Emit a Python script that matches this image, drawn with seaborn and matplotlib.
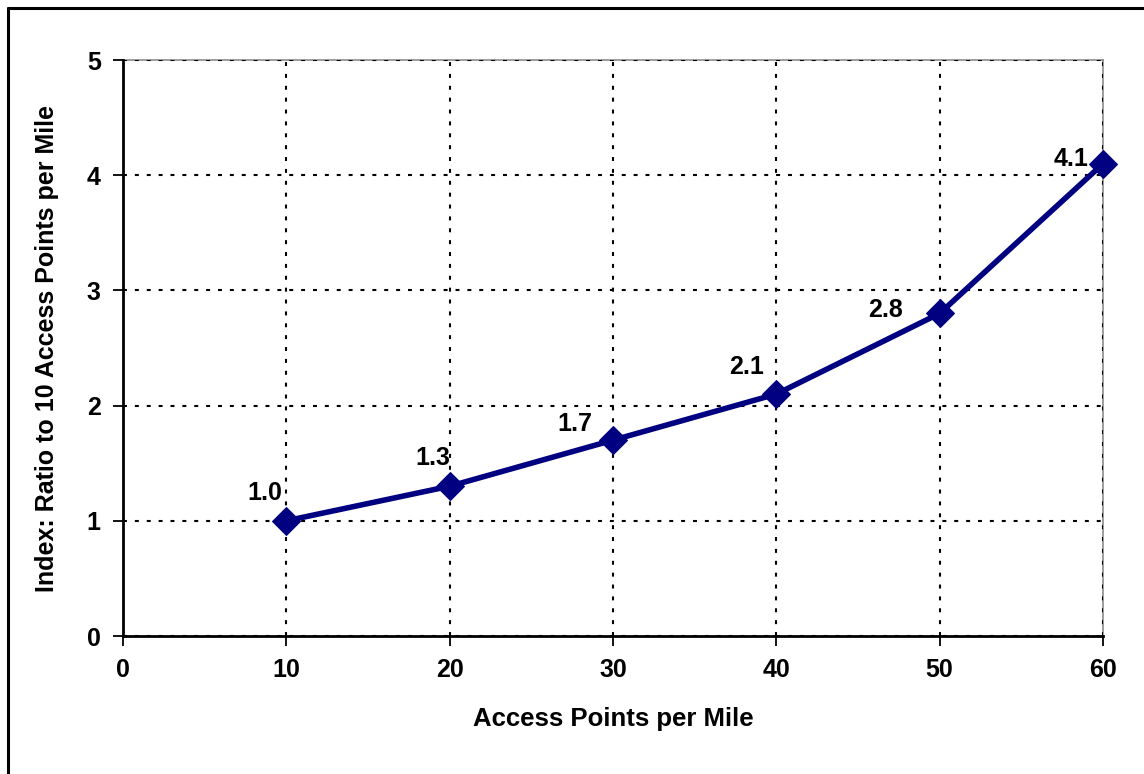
import matplotlib
matplotlib.use("Agg")
import matplotlib.pyplot as plt
import seaborn as sns
import pandas as pd
from matplotlib.lines import Line2D

access_points = [10, 20, 30, 40, 50, 60]
index_ratio = [1.0, 1.3, 1.7, 2.1, 2.8, 4.1]
x_ticks = [0, 10, 20, 30, 40, 50, 60]
y_ticks = [0, 1, 2, 3, 4, 5]
x_label = "Access Points per Mile"
y_label = "Index: Ratio to 10 Access Points per Mile"

sns.set_style("white")
plt.rcParams["font.family"] = ["Liberation Sans", "DejaVu Sans"]
plt.rcParams["font.weight"] = "bold"
plt.rcParams["text.color"] = "black"
plt.rcParams["axes.labelcolor"] = "black"
plt.rcParams["xtick.color"] = "black"
plt.rcParams["ytick.color"] = "black"

df = pd.DataFrame({"x": access_points, "y": index_ratio})

fig = plt.figure(figsize=(11.44, 7.74), dpi=100)
ax = fig.add_axes([123 / 1144, 1 - 636 / 774, (1103 - 123) / 1144, (636 - 60) / 774])

sns.lineplot(data=df, x="x", y="y", ax=ax, color="#000080", linewidth=4.0,
             marker="D", markersize=14, markeredgecolor="#000080",
             markerfacecolor="#000080", zorder=5, clip_on=False)

ax.set_xlim(0, 60)
ax.set_ylim(0, 5)
ax.set_xticks(x_ticks)
ax.set_yticks(y_ticks)
ax.set_xticklabels([str(v) for v in x_ticks], fontsize=18, fontweight="bold", color="black")
ax.set_yticklabels([str(v) for v in y_ticks], fontsize=18, fontweight="bold", color="black")
ax.set_xlabel(x_label, fontsize=18.5, fontweight="bold", labelpad=18, color="black")
ax.set_ylabel(y_label, fontsize=18, fontweight="bold", labelpad=20, color="black")

ax.grid(True, color="black", linestyle=(0, (1.9, 3.8)), linewidth=1.5)
ax.set_axisbelow(True)
for side in ("top", "right"):
    ax.spines[side].set_color("#8c8c8c")
    ax.spines[side].set_linewidth(1.2)
    ax.spines[side].set_zorder(0.5)
for side in ("left", "bottom"):
    ax.spines[side].set_color("black")
    ax.spines[side].set_linewidth(2.0)

ax.tick_params(axis="both", direction="out", length=7, width=1.3, color="black",
               left=True, bottom=True, pad=9)

# value labels sit up and to the left of each marker
label_offsets = [(-22, 28), (-17, 28), (-38, 16), (-30, 27), (-54, 3), (-32, 5)]
for xv, yv, (dx, dy) in zip(access_points, index_ratio, label_offsets):
    ax.annotate(f"{yv:.1f}", xy=(xv, yv), xytext=(dx, dy),
                textcoords="offset pixels", ha="center", va="center",
                fontsize=18, fontweight="bold", color="black", zorder=6)

# outer chart frame
fig.add_artist(Line2D([7.5 / 1144, 1.0], [1 - 7.5 / 774, 1 - 7.5 / 774],
                      transform=fig.transFigure, color="black", linewidth=2.2))
fig.add_artist(Line2D([7.5 / 1144, 7.5 / 1144], [0.0, 1 - 7.5 / 774],
                      transform=fig.transFigure, color="black", linewidth=2.2))

fig.savefig("out.png", dpi=100, facecolor="white")
